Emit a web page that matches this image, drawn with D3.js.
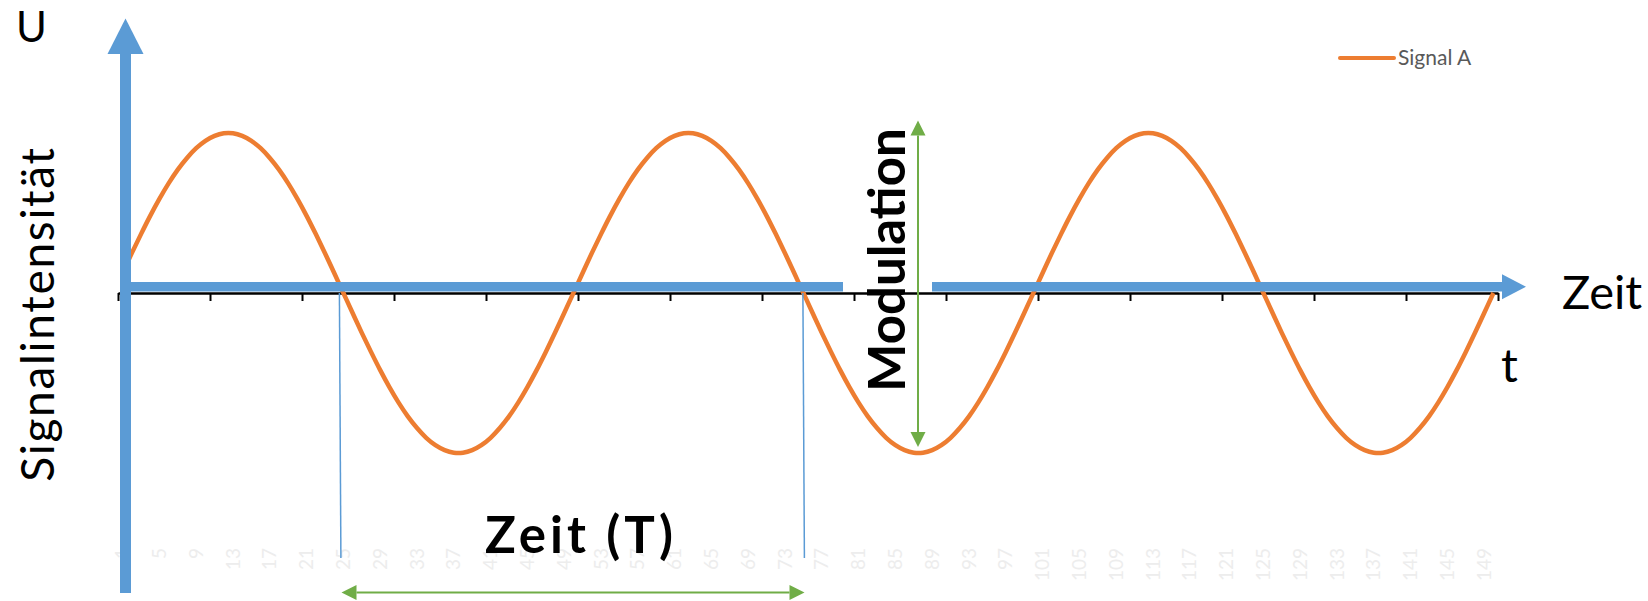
<!DOCTYPE html>
<html lang="de">
<head>
  <meta charset="UTF-8">
  <title>Signal A</title>
  <style>
    body { margin: 0; background: #fff; }
    text { font-family: Lato, "Open Sans", sans-serif; }
  </style>
</head>
<body>
<script src="https://cdn.jsdelivr.net/npm/d3@7/dist/d3.min.js"></script>
<script>
  var width = 1648;   // Breite
  var height = 601;   // Höhe

  // Kategorien 1..150 (Excel-Kategorieachse)
  var categories = d3.range(1, 151);

  // Signal A (3 Perioden zu je 50 Punkten)
  var signalA = [
    0.125, 0.249, 0.368, 0.482, 0.588, 0.685, 0.771, 0.844, 0.905, 0.951, 0.982, 0.998, 0.998, 0.982, 0.951, 0.905, 0.844, 0.771, 0.685, 0.588, 0.482, 0.368, 0.249, 0.125, 0.000,
    -0.125, -0.249, -0.368, -0.482, -0.588, -0.685, -0.771, -0.844, -0.905, -0.951, -0.982, -0.998, -0.998, -0.982, -0.951, -0.905, -0.844, -0.771, -0.685, -0.588, -0.482, -0.368, -0.249, -0.125, 0.000,
    0.125, 0.249, 0.368, 0.482, 0.588, 0.685, 0.771, 0.844, 0.905, 0.951, 0.982, 0.998, 0.998, 0.982, 0.951, 0.905, 0.844, 0.771, 0.685, 0.588, 0.482, 0.368, 0.249, 0.125, 0.000,
    -0.125, -0.249, -0.368, -0.482, -0.588, -0.685, -0.771, -0.844, -0.905, -0.951, -0.982, -0.998, -0.998, -0.982, -0.951, -0.905, -0.844, -0.771, -0.685, -0.588, -0.482, -0.368, -0.249, -0.125, 0.000,
    0.125, 0.249, 0.368, 0.482, 0.588, 0.685, 0.771, 0.844, 0.905, 0.951, 0.982, 0.998, 0.998, 0.982, 0.951, 0.905, 0.844, 0.771, 0.685, 0.588, 0.482, 0.368, 0.249, 0.125, 0.000,
    -0.125, -0.249, -0.368, -0.482, -0.588, -0.685, -0.771, -0.844, -0.905, -0.951, -0.982, -0.998, -0.998, -0.982, -0.951, -0.905, -0.844, -0.771, -0.685, -0.588, -0.482, -0.368, -0.249, -0.125, 0.000
  ];

  // Achsenbeschriftung (jede 4. Kategorie)
  var tickLabels = [1, 5, 9, 13, 17, 21, 25, 29, 33, 37, 41, 45, 49, 53, 57, 61, 65, 69, 73, 77,
    81, 85, 89, 93, 97, 101, 105, 109, 113, 117, 121, 125, 129, 133, 137, 141, 145, 149];
  var tickMarks = [0, 10, 20, 30, 40, 50, 60, 70, 80, 90, 100, 110, 120, 130, 140, 150];

  var orange = "#ed7d31";
  var blue = "#5b9bd5";
  var green = "#70ad47";

  var svg = d3.select("body")
    .append("svg")
    .attr("width", width)
    .attr("height", height);

  var x = d3.scaleBand().domain(categories).range([118, 1498]);
  var xEdge = d3.scaleLinear().domain([0, 150]).range([118, 1498]);  // Teilstriche zwischen Kategorien
  var y = d3.scaleLinear().domain([-1, 1]).range([453, 133]);
  var xc = function (c) { return x(c) + x.bandwidth() / 2; };

  // Kategorieachse (schwarz)
  var axis = svg.append("g")
    .attr("transform", "translate(0," + y(0) + ")")
    .call(d3.axisBottom(xEdge).tickValues(tickMarks).tickSize(8).tickSizeOuter(0).tickFormat(""));
  axis.select(".domain").attr("stroke", "#000").attr("stroke-width", 2.5);
  axis.selectAll(".tick line").attr("stroke", "#000").attr("stroke-width", 2);

  // fast unsichtbare Beschriftung
  svg.append("g").selectAll("text")
    .data(tickLabels)
    .enter()
    .append("text")
    .attr("transform", function (d) { return "translate(" + (xc(d) + 6.5) + ",548) rotate(-90)"; })
    .attr("text-anchor", "end")
    .attr("font-size", 19)
    .attr("fill", "#ededed")
    .text(function (d) { return d; });

  // Signal A (geglättete Linie)
  var line = d3.line()
    .x(function (d, i) { return xc(categories[i]); })
    .y(function (d) { return y(d); })
    .curve(d3.curveCatmullRom);

  svg.append("path")
    .datum(signalA)
    .attr("d", line)
    .attr("fill", "none")
    .attr("stroke", orange)
    .attr("stroke-width", 4.5)
    .attr("stroke-linejoin", "round");

  // blaue Pfeile
  var barY = y(0) - 11, barH = 9.5;
  svg.append("rect").attr("x", 120).attr("y", barY).attr("width", 843 - 120).attr("height", barH).attr("fill", blue);
  svg.append("rect").attr("x", 932).attr("y", barY).attr("width", 1503 - 932).attr("height", barH).attr("fill", blue);
  svg.append("polygon")
    .attr("points", [[1502, barY + barH / 2 - 12.5], [1526, barY + barH / 2], [1502, barY + barH / 2 + 12.5]].join(" "))
    .attr("fill", blue);

  svg.append("rect").attr("x", 120).attr("y", 53).attr("width", 11).attr("height", 593 - 53).attr("fill", blue);
  svg.append("polygon")
    .attr("points", [[107.5, 54], [125.5, 18.5], [143.5, 54]].join(" "))
    .attr("fill", blue);

  // Periodenmarken
  [xc(25) - 4, xc(75) - 0.5].forEach(function (px) {
    svg.append("line")
      .attr("x1", px).attr("x2", px + 1.5)
      .attr("y1", y(0)).attr("y2", 558)
      .attr("stroke", blue).attr("stroke-width", 1.5);
  });

  // grüne Doppelpfeile
  function greenArrow(x1, y1, x2, y2) {
    var dx = x2 - x1, dy = y2 - y1, len = Math.sqrt(dx * dx + dy * dy);
    var ux = dx / len, uy = dy / len, hl = 15, hw = 7.5;
    svg.append("line")
      .attr("x1", x1 + ux * hl).attr("y1", y1 + uy * hl)
      .attr("x2", x2 - ux * hl).attr("y2", y2 - uy * hl)
      .attr("stroke", green).attr("stroke-width", 2);
    [[x1, y1, 1], [x2, y2, -1]].forEach(function (p) {
      var bx = p[0] + ux * hl * p[2], by = p[1] + uy * hl * p[2];
      svg.append("polygon")
        .attr("points", [[p[0], p[1]], [bx - uy * hw, by + ux * hw], [bx + uy * hw, by - ux * hw]].join(" "))
        .attr("fill", green);
    });
  }
  greenArrow(918, 120.5, 918, 447);
  greenArrow(341.5, 592.5, 804.5, 592.5);

  // Texte
  svg.append("text").attr("x", 16).attr("y", 42).attr("font-size", 42).attr("fill", "#000").text("U");

  svg.append("text")
    .attr("transform", "translate(54,314) rotate(-90)")
    .attr("text-anchor", "middle")
    .attr("font-size", 46)
    .attr("letter-spacing", 1.7)
    .attr("fill", "#000")
    .text("Signalintensität");

  svg.append("text").attr("x", 1562).attr("y", 309).attr("font-size", 47).attr("fill", "#000").text("Zeit");
  svg.append("text").attr("x", 1501).attr("y", 382).attr("font-size", 47).attr("fill", "#000").text("t");

  svg.append("text")
    .attr("x", 485).attr("y", 553)
    .attr("font-size", 51).attr("font-weight", "bold")
    .attr("letter-spacing", 4)
    .attr("fill", "#000")
    .text("Zeit (T)");

  svg.append("text")
    .attr("transform", "translate(905,260) rotate(-90)")
    .attr("text-anchor", "middle")
    .attr("font-size", 51).attr("font-weight", "bold")
    .attr("fill", "#000")
    .text("Modulation");

  // Legende
  svg.append("line")
    .attr("x1", 1340).attr("x2", 1394).attr("y1", 58).attr("y2", 58)
    .attr("stroke", orange).attr("stroke-width", 4).attr("stroke-linecap", "round");
  svg.append("text")
    .attr("x", 1398).attr("y", 65)
    .attr("font-size", 21).attr("fill", "#595959")
    .text("Signal A");
</script>
</body>
</html>
